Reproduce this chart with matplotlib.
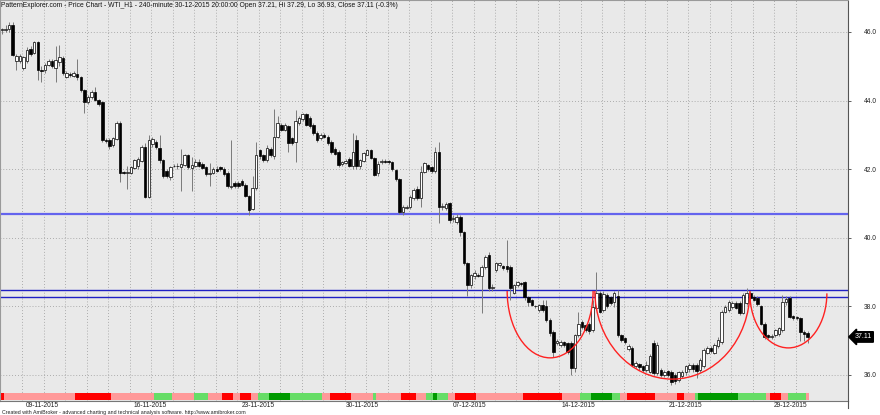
import numpy as np
import matplotlib
matplotlib.use("Agg")
import matplotlib.pyplot as plt
import matplotlib.transforms as mtransforms
from matplotlib.patches import Arc
from matplotlib.lines import Line2D

plt.rcParams['font.family'] = ['Liberation Sans', 'DejaVu Sans']

# WTI 240-minute bars
opens = [46.05, 46.06, 46.08, 46.20, 45.15, 45.15, 44.95, 45.15, 45.50, 45.40,
         45.71, 44.90, 44.88, 45.05, 45.15, 44.95, 45.12, 45.24, 44.70, 44.78,
         44.72, 44.78, 44.70, 44.30, 43.96, 44.10, 44.25, 44.02, 43.96, 42.85,
         42.85, 42.70, 42.88, 43.35, 41.90, 41.88, 41.90, 42.03, 42.10, 42.25,
         42.65, 41.20, 42.72, 42.80, 42.62, 42.27, 41.95, 41.78, 42.08, 42.10,
         42.05, 42.13, 42.41, 42.03, 42.10, 42.22, 42.15, 42.05, 41.86, 41.88,
         42.00, 42.05, 42.00, 41.88, 41.48, 41.60, 41.60, 41.65, 41.55, 41.22,
         40.85, 41.45, 42.55, 42.41, 42.27, 42.60, 42.38, 42.94, 43.30, 43.15,
         43.25, 42.90, 42.80, 43.35, 43.45, 43.60, 43.50, 43.30, 43.05, 42.90,
         43.00, 42.95, 42.78, 42.60, 42.50, 42.15, 42.18, 42.30, 42.08, 42.85,
         42.08, 42.25, 42.42, 42.56, 42.33, 41.88, 42.20, 42.25, 42.25, 42.20,
         41.98, 41.70, 40.76, 40.88, 40.90, 41.15, 41.42, 41.16, 41.92, 42.12,
         42.06, 41.95, 42.50, 40.90, 40.87, 41.00, 40.55, 40.45, 40.62, 40.17,
         39.27, 38.62, 38.88, 38.92, 38.88, 39.15, 39.50, 38.55, 39.06, 39.20,
         39.18, 39.18, 39.15, 38.40, 38.62, 38.68, 38.70, 38.27, 38.19, 38.02,
         37.90, 38.04, 38.00, 37.60, 37.25, 36.93, 36.88, 36.97, 36.92, 36.93,
         36.20, 37.16, 37.54, 37.45, 37.50, 37.31, 37.95, 38.39, 37.90, 38.33,
         38.27, 38.13, 38.30, 37.16, 37.08, 36.75, 36.80, 36.25, 36.32, 36.25,
         36.15, 36.10, 36.93, 36.06, 36.15, 36.00, 36.12, 36.10, 36.00, 35.85,
         35.98, 36.08, 36.18, 36.30, 36.30, 36.15, 36.25, 36.65, 36.80, 36.65,
         36.85, 36.95, 37.84, 37.90, 37.98, 38.10, 38.10, 37.82, 38.10, 38.39,
         38.28, 38.25, 38.00, 37.50, 37.17, 37.10, 37.16, 37.20, 37.31, 38.12,
         38.24, 37.72, 37.70, 37.66, 37.25, 37.21]
highs = [46.12, 46.20, 46.30, 46.30, 45.35, 45.35, 45.30, 45.55, 45.60, 45.75,
         45.75, 45.00, 45.10, 45.20, 45.20, 45.59, 45.62, 45.30, 44.85, 44.82,
         44.85, 45.20, 44.72, 44.35, 44.15, 44.30, 44.40, 44.05, 44.00, 42.90,
         42.90, 42.95, 43.40, 43.40, 41.95, 42.10, 42.10, 42.30, 42.35, 42.70,
         42.75, 43.00, 42.95, 42.85, 43.00, 42.30, 42.00, 42.10, 42.15, 42.18,
         42.60, 42.45, 42.45, 42.35, 42.30, 42.30, 42.20, 42.10, 42.17, 42.05,
         42.08, 42.10, 42.05, 41.95, 42.85, 41.65, 41.65, 41.70, 41.60, 41.25,
         41.80, 42.80, 42.60, 42.45, 42.70, 42.65, 43.76, 43.55, 43.35, 43.35,
         43.30, 42.95, 43.73, 43.55, 43.65, 43.65, 43.55, 43.35, 43.10, 43.05,
         43.05, 43.00, 42.85, 42.65, 42.55, 42.25, 42.30, 42.35, 43.05, 43.00,
         42.30, 42.50, 42.60, 42.60, 42.35, 42.25, 42.30, 42.30, 42.28, 42.25,
         42.00, 41.75, 40.95, 40.95, 41.25, 41.45, 41.50, 42.10, 42.20, 42.15,
         42.10, 42.65, 42.80, 41.00, 41.05, 41.05, 40.65, 40.68, 40.65, 40.20,
         39.30, 38.95, 39.05, 38.97, 39.20, 39.50, 39.60, 38.65, 39.30, 39.30,
         39.20, 39.94, 39.20, 38.65, 38.75, 38.72, 38.75, 38.30, 38.22, 38.05,
         38.08, 38.20, 38.20, 37.65, 37.30, 37.05, 37.02, 37.00, 36.95, 36.98,
         37.20, 37.84, 37.60, 37.50, 37.55, 38.19, 39.00, 38.45, 38.45, 38.40,
         38.30, 38.45, 38.48, 37.20, 37.10, 36.90, 36.85, 36.40, 36.35, 36.30,
         36.40, 36.60, 37.02, 36.95, 36.20, 36.15, 36.15, 36.15, 36.05, 36.12,
         36.15, 36.30, 36.35, 36.35, 36.35, 36.50, 36.80, 36.85, 36.85, 36.92,
         37.10, 37.90, 38.05, 38.20, 38.15, 38.15, 38.15, 38.40, 38.54, 38.45,
         38.32, 38.30, 38.05, 37.55, 37.20, 37.20, 37.35, 37.40, 38.33, 38.30,
         38.30, 37.75, 37.72, 37.70, 37.30, 37.29]
lows = [45.95, 46.00, 46.00, 45.30, 44.90, 45.10, 44.90, 45.10, 45.30, 45.35,
        44.60, 44.55, 44.80, 45.00, 44.95, 44.55, 45.00, 44.75, 44.65, 44.70,
        44.68, 44.60, 44.25, 43.64, 43.90, 44.05, 44.00, 43.85, 42.80, 42.75,
        42.60, 42.65, 42.85, 41.63, 41.85, 41.42, 41.85, 42.00, 42.00, 42.20,
        41.15, 41.15, 42.65, 42.60, 42.17, 41.75, 41.75, 41.68, 42.05, 42.02,
        41.35, 42.10, 42.00, 41.35, 42.05, 42.05, 42.00, 41.80, 41.50, 41.85,
        41.92, 41.95, 41.80, 41.45, 41.42, 41.45, 41.45, 41.50, 41.18, 40.67,
        40.80, 41.40, 42.30, 42.20, 42.20, 42.35, 42.30, 42.90, 43.10, 43.10,
        42.50, 42.70, 42.20, 43.30, 43.40, 43.25, 43.20, 43.00, 42.80, 42.85,
        42.90, 42.70, 42.45, 42.40, 42.05, 42.10, 42.15, 42.05, 42.00, 42.00,
        42.00, 42.20, 42.40, 42.30, 41.80, 41.80, 42.15, 42.18, 42.15, 41.95,
        41.65, 40.70, 40.65, 40.85, 40.85, 41.10, 41.10, 40.90, 41.90, 41.95,
        41.90, 41.90, 40.43, 40.80, 40.80, 40.43, 40.45, 40.40, 40.05, 39.20,
        38.30, 38.55, 38.80, 38.85, 37.80, 39.10, 38.45, 38.45, 39.00, 39.15,
        39.05, 39.00, 38.20, 38.35, 38.58, 38.60, 38.20, 38.00, 38.00, 37.95,
        37.85, 37.85, 37.55, 37.15, 36.52, 36.88, 36.82, 36.82, 36.60, 36.00,
        36.10, 37.10, 37.35, 37.25, 37.20, 37.25, 37.90, 37.80, 37.85, 37.95,
        38.05, 37.98, 37.10, 36.95, 36.90, 36.70, 36.25, 36.20, 36.15, 36.10,
        36.10, 36.05, 36.00, 36.00, 35.95, 35.95, 35.95, 35.71, 35.75, 35.80,
        35.90, 36.00, 36.10, 36.10, 35.90, 36.10, 36.20, 36.60, 36.65, 36.60,
        36.80, 36.90, 37.80, 37.85, 37.92, 37.92, 37.75, 37.78, 38.05, 38.20,
        38.15, 38.00, 37.45, 37.05, 37.05, 37.05, 37.10, 37.15, 37.25, 38.05,
        37.65, 37.60, 37.60, 37.00, 37.00, 36.93]
closes = [46.06, 46.10, 46.20, 45.33, 45.30, 45.30, 45.27, 45.48, 45.36, 45.71,
          44.90, 44.85, 45.05, 45.15, 45.00, 45.18, 45.27, 44.80, 44.80, 44.75,
          44.80, 44.70, 44.30, 43.96, 44.10, 44.25, 44.02, 43.90, 42.85, 42.82,
          42.68, 42.90, 43.35, 41.90, 41.88, 41.92, 42.05, 42.27, 42.30, 42.65,
          41.20, 42.85, 42.88, 42.65, 42.27, 41.80, 41.80, 42.07, 42.10, 42.08,
          42.15, 42.41, 42.07, 42.12, 42.22, 42.10, 42.03, 41.85, 41.90, 42.00,
          41.96, 42.00, 41.85, 41.50, 41.50, 41.52, 41.50, 41.55, 41.22, 40.82,
          41.45, 42.41, 42.38, 42.27, 42.62, 42.40, 42.94, 43.35, 43.15, 43.30,
          42.76, 42.76, 43.40, 43.50, 43.60, 43.30, 43.25, 43.05, 42.85, 43.00,
          42.95, 42.76, 42.50, 42.45, 42.12, 42.20, 42.25, 42.10, 42.50, 42.08,
          42.27, 42.47, 42.55, 42.33, 41.83, 42.15, 42.25, 42.22, 42.20, 42.00,
          41.70, 40.75, 40.90, 40.90, 41.19, 41.39, 41.16, 41.92, 42.18, 42.00,
          41.95, 42.50, 40.90, 40.92, 40.98, 40.52, 40.58, 40.62, 40.17, 39.27,
          38.62, 38.91, 38.97, 38.90, 39.15, 39.44, 38.55, 38.57, 39.27, 39.27,
          39.12, 39.08, 38.55, 38.62, 38.72, 38.66, 38.27, 38.13, 38.05, 38.00,
          38.04, 37.90, 37.60, 37.22, 36.67, 36.98, 36.97, 36.88, 36.68, 36.20,
          37.16, 37.50, 37.40, 37.31, 37.28, 37.98, 38.39, 37.85, 38.35, 38.00,
          38.10, 38.39, 37.16, 37.02, 36.96, 36.85, 36.30, 36.35, 36.22, 36.15,
          36.30, 36.55, 36.05, 36.88, 36.00, 36.10, 36.00, 35.80, 35.82, 36.08,
          36.10, 36.25, 36.28, 36.18, 36.12, 36.44, 36.73, 36.80, 36.70, 36.88,
          37.02, 37.84, 37.98, 38.13, 38.10, 37.96, 37.82, 38.33, 38.39, 38.25,
          38.20, 38.08, 37.50, 37.10, 37.10, 37.14, 37.31, 37.36, 38.13, 38.22,
          37.70, 37.65, 37.65, 37.25, 37.20, 37.11]

# bar index where each weekly date label sits
date_labels = ['09-11-2015', '16-11-2015', '23-11-2015', '30-11-2015',
               '07-12-2015', '14-12-2015', '21-12-2015', '29-12-2015']
date_bars = [11.2, 41.3, 71.5, 100.6, 130.7, 160.9, 190.9, 220.2]

price_ticks = [36.0, 38.0, 40.0, 42.0, 44.0, 46.0]

# trend lines
support_level = 40.70
neck_upper = 38.48
neck_lower = 38.27

# cup arcs: left bar, right bar, rim price, bottom price
arc_left = [141.1, 165.6, 208.9]
arc_right = [165.1, 208.9, 230.4]
arc_rim = [38.45, 38.45, 38.38]
arc_bottom = [36.50, 35.88, 36.79]

# indicator ribbon, one code per bar (R red, P pink, G light green, D dark green)
ribbon = ("R"
          "PPPPPPPPPPPPPPPPPPPP"
          "RRRRRRRRRR"
          "PPPPPPPPPPPP"
          "GGGGG"
          "PPPPPP"
          "GGGG"
          "PPPP"
          "RRR"
          "PP"
          "RRR"
          "PP"
          "GGG"
          "DDDDDD"
          "GGGGGGGGG"
          "PP"
          "RRRRRR"
          "PPPPPP"
          "G"
          "PPPPPPP"
          "RRRR"
          "PPP"
          "GG"
          "D"
          "GGG"
          "PP"
          "RRRRRR"
          "PPPPPPPPPPPPP"
          "RRRRRRRRRRR"
          "PPPPP"
          "GGG"
          "DDDDDD"
          "GG"
          "PP"
          "RRRRRRRR"
          "PPPPPP"
          "RR"
          "PPP"
          "G"
          "DDDDDDDDDDD"
          "GGGGGGGG"
          "P"
          "RRR"
          "PP"
          "GGGGG"
          "P")
ribbon_colors = {'R': '#ff0000', 'P': '#ff9999', 'G': '#66dd66', 'D': '#009a00'}

title = ("PatternExplorer.com - Price Chart - WTI_H1 - 240-minute 30-12-2015 20:00:00 "
         "Open 37.21, Hi 37.29, Lo 36.93, Close 37.11 (-0.3%)")

W, H = 880, 415
fig = plt.figure(figsize=(W / 100, H / 100), dpi=100, facecolor='white')
ax = fig.add_axes([0, 14 / H, 848 / W, 414.5 / H - 14 / H])
ax.set_facecolor('#e9e9e9')

o = np.array(opens); hi = np.array(highs); lo = np.array(lows); c = np.array(closes)
x = np.arange(len(o))
up = c >= o

# candles
ax.vlines(x, lo, hi, color='#7a7a7a', lw=0.7, zorder=3)
body_lo = np.minimum(o, c)
body_h = np.maximum(np.abs(c - o), 0.025)
ax.bar(x[up], body_h[up], bottom=body_lo[up], width=0.7, color='white',
       edgecolor='black', linewidth=0.5, zorder=4)
ax.bar(x[~up], body_h[~up], bottom=body_lo[~up], width=0.7, color='black',
       edgecolor='black', linewidth=0.5, zorder=4)

# horizontal levels
ax.axhline(support_level, color='#6464ee', lw=1.6, zorder=2)
ax.axhline(neck_upper, color='#2020c4', lw=1.0, zorder=2)
ax.axhline(neck_lower, color='#2020c4', lw=1.0, zorder=2)

# cup arcs
for l, r, rim, bot in zip(arc_left, arc_right, arc_rim, arc_bottom):
    ax.add_patch(Arc(((l + r) / 2, rim), r - l, 2 * (rim - bot), theta1=180, theta2=360,
                     color='#ff2222', lw=1.0, zorder=5))

# ribbon at the foot of the chart
n = min(len(ribbon), len(x))
ax.bar(x[:n], 0.21, bottom=35.27, width=1.0, color=[ribbon_colors[k] for k in ribbon[:n]],
       linewidth=0, zorder=2)

ax.set_xlim(-0.56, 236.3)
ax.set_ylim(35.242, 46.918)

# grid
ax.set_yticks(price_ticks)
ax.set_yticklabels([f'{v:.1f}' for v in price_ticks])
ax.set_xticks(date_bars)
ax.set_xticklabels(date_labels)
ax.set_xticks(np.arange(date_bars[0] - 5.5, 222, 6), minor=True)
ax.grid(axis='y', which='major', ls=(0, (1, 2.5)), color='#999999', lw=0.6, zorder=1)
ax.grid(axis='x', which='minor', ls=(0, (1, 2.5)), color='#999999', lw=0.6, zorder=1)
ax.set_axisbelow(True)

ax.yaxis.tick_right()
ax.tick_params(axis='y', direction='out', length=2.5, width=0.6, color='#444444',
               labelsize=4.8, pad=9, labelcolor='#222222')
ax.tick_params(axis='x', which='both', length=0, pad=0.5, labelsize=4.8, labelcolor='#222222')

for side in ('left', 'top'):
    ax.spines[side].set_color('#9a9a9a')
    ax.spines[side].set_linewidth(0.8)
ax.spines['bottom'].set_color('#777777')
ax.spines['bottom'].set_linewidth(0.8)
ax.spines['right'].set_color('#555555')
ax.spines['right'].set_linewidth(0.8)
fig.add_artist(Line2D([848 / W, 848 / W], [7 / H, 14 / H], color='#555555', lw=0.8))

# last price tag
trans = mtransforms.blended_transform_factory(ax.transAxes, ax.transData)
ax.text(1 + 15 / 848, closes[-1], f'{closes[-1]:.2f}', transform=trans, ha='center', va='center',
        color='white', fontsize=5, clip_on=False,
        bbox=dict(boxstyle='larrow,pad=0.25', fc='black', ec='black'))

ax.text(0.0015, 0.997, title, transform=ax.transAxes, ha='left', va='top',
        fontsize=4.9, color='#111111', zorder=6)
fig.text(2 / W, 3 / H, 'Created with AmiBroker - advanced charting and technical analysis software. '
         'http://www.amibroker.com', fontsize=3.8, ha='left', va='center', color='#222222')

fig.savefig('out.png', dpi=100, facecolor='white')
